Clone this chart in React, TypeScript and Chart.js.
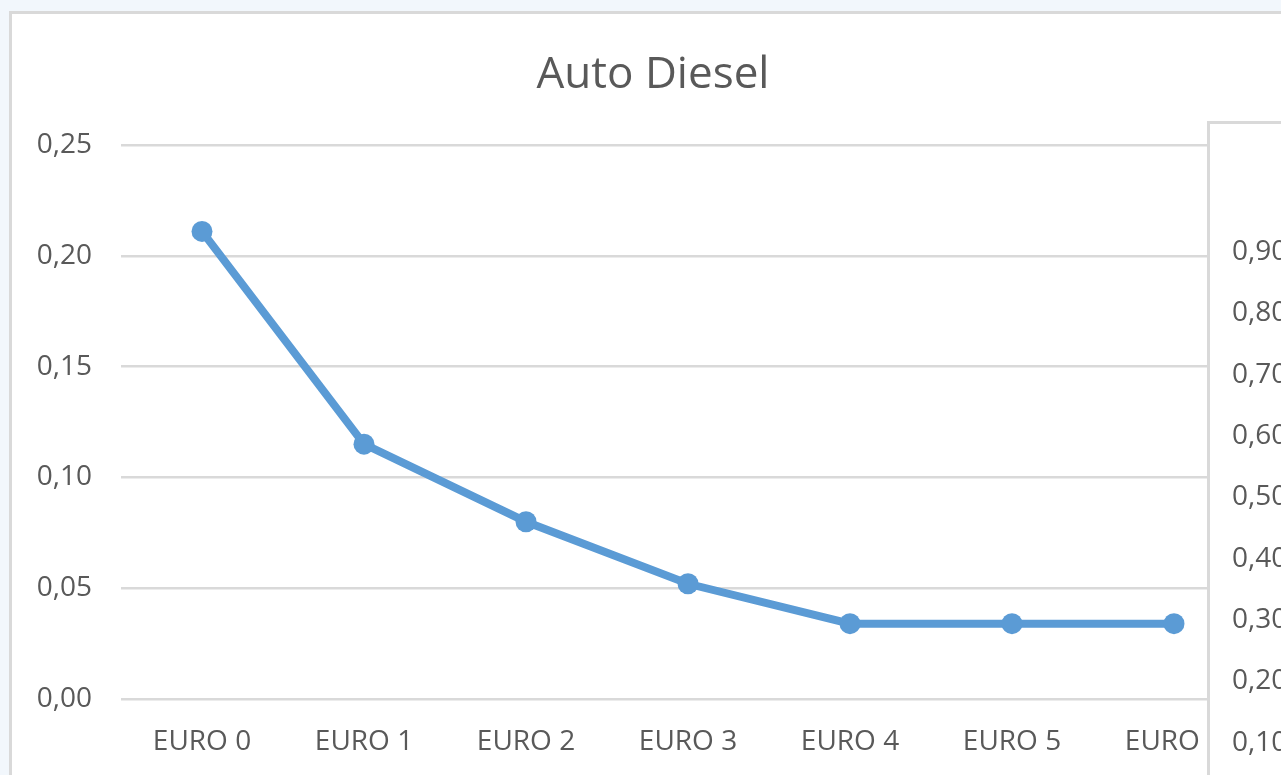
import React, { useEffect, useRef } from "react";
import { Chart, registerables } from "chart.js";

Chart.register(...registerables);

const chartTitle = "Auto Diesel";
const categories = ["EURO 0", "EURO 1", "EURO 2", "EURO 3", "EURO 4", "EURO 5", "EURO 6"];
const dieselValues = [0.211, 0.115, 0.08, 0.052, 0.034, 0.034, 0.034];
const mainAxisMin = 0;
const mainAxisMax = 0.25;
const mainAxisStep = 0.05;
const secondAxisMin = 0;
const secondAxisMax = 0.9;
const secondAxisStep = 0.1;

const FONT = "'Open Sans', 'DejaVu Sans', sans-serif";
const TEXT = "#595959";
const GRID = "#d9d9d9";
const LINE = "#5b9bd5";

const fmt = (v: number | string) => Number(v).toFixed(2).replace(".", ",");

export default function App() {
  const mainRef = useRef<HTMLCanvasElement | null>(null);
  const sideRef = useRef<HTMLCanvasElement | null>(null);

  useEffect(() => {
    const main = new Chart(mainRef.current as HTMLCanvasElement, {
      type: "line",
      data: {
        labels: categories,
        datasets: [
          {
            label: chartTitle,
            data: dieselValues,
            yAxisID: "y",
            borderColor: LINE,
            backgroundColor: LINE,
            borderWidth: 8,
            pointRadius: 10.5,
            pointBorderWidth: 0,
            pointBackgroundColor: LINE,
            tension: 0,
          },
        ],
      },
      options: {
        animation: false,
        responsive: false,
        devicePixelRatio: 1,
        layout: { padding: { left: 0, right: 18, top: 0, bottom: 45 } },
        plugins: {
          legend: { display: false },
          tooltip: { enabled: false },
          title: {
            display: true,
            text: chartTitle,
            color: TEXT,
            font: { family: FONT, size: 44, weight: "normal", lineHeight: 1.2 },
            padding: { top: 35, bottom: 43.2 },
          },
        },
        scales: {
          x: {
            offset: true,
            grid: { display: false, drawTicks: false },
            border: { display: false },
            ticks: {
              color: TEXT,
              font: { family: FONT, size: 28 },
              padding: 26,
              maxRotation: 0,
              autoSkip: false,
            },
            afterFit: (scale: any) => {
              scale.height = 60;
            },
          },
          y: {
            position: "left",
            min: mainAxisMin,
            max: mainAxisMax,
            grid: { color: GRID, lineWidth: 2.5, drawTicks: false },
            border: { display: false },
            ticks: {
              stepSize: mainAxisStep,
              color: TEXT,
              font: { family: FONT, size: 28 },
              padding: 29,
              callback: (v: any) => fmt(v),
            },
            afterFit: (scale: any) => {
              scale.width = 109;
            },
          },
          yPad: {
            position: "right",
            min: mainAxisMin,
            max: mainAxisMax,
            grid: { display: false, drawTicks: false },
            border: { display: false },
            ticks: { display: false },
            afterFit: (scale: any) => {
              scale.width = 39;
            },
          },
        },
      },
    });

    const side = new Chart(sideRef.current as HTMLCanvasElement, {
      type: "line",
      data: { labels: [], datasets: [] },
      options: {
        animation: false,
        responsive: false,
        devicePixelRatio: 1,
        layout: { padding: { left: 22, right: 0, top: 128, bottom: 20 } },
        plugins: { legend: { display: false }, tooltip: { enabled: false }, title: { display: false } },
        scales: {
          x: { display: false },
          y: {
            min: secondAxisMin,
            max: secondAxisMax,
            grid: { display: false, drawTicks: false },
            border: { display: false },
            ticks: {
              stepSize: secondAxisStep,
              color: TEXT,
              crossAlign: "far",
              font: { family: FONT, size: 28 },
              padding: 0,
              callback: (v: any) => fmt(v),
            },
            afterFit: (scale: any) => {
              scale.width = 90;
            },
          },
        },
      },
    });

    return () => {
      main.destroy();
      side.destroy();
    };
  }, []);

  return (
    <div style={{ position: "fixed", inset: 0, background: "#f2f7fc", overflow: "hidden" }}>
      <div
        style={{
          position: "absolute",
          left: 9,
          top: 11,
          width: 1400,
          height: 900,
          border: `3px solid ${GRID}`,
          background: "#ffffff",
        }}
      >
        <canvas ref={mainRef} width={1300} height={790} style={{ position: "absolute", left: 0, top: 0 }} />
      </div>
      <div
        style={{
          position: "absolute",
          left: 1207,
          top: 121,
          width: 200,
          height: 800,
          border: `3px solid ${GRID}`,
          background: "#ffffff",
        }}
      >
        <canvas ref={sideRef} width={190} height={700} style={{ position: "absolute", left: 0, top: 0 }} />
      </div>
    </div>
  );
}
